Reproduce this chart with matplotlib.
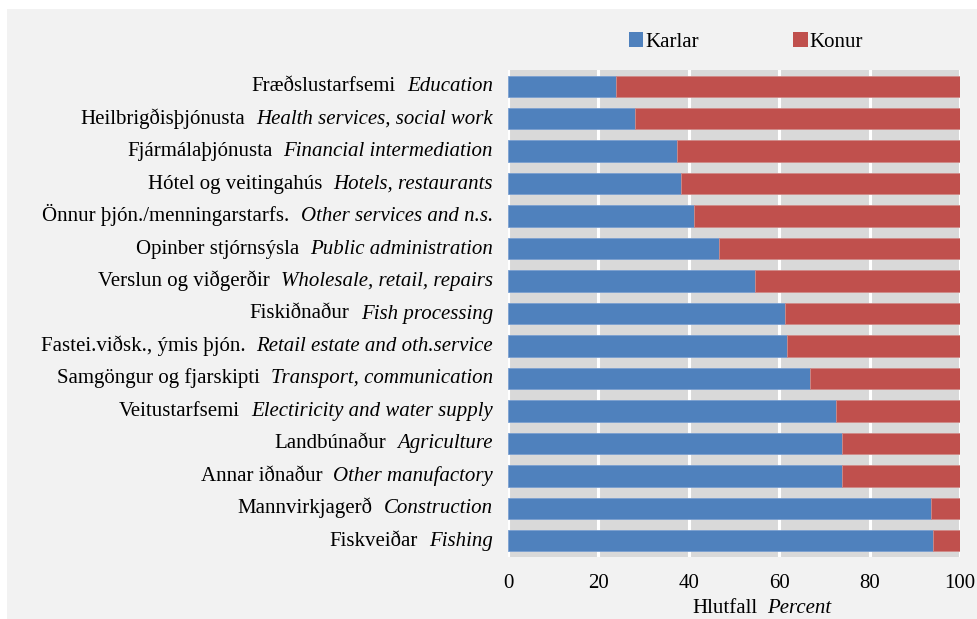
import matplotlib.pyplot as plt
from matplotlib.patches import Rectangle, Patch
from matplotlib.transforms import offset_copy

# Data, top row first
greinar = ["Fræðslustarfsemi", "Heilbrigðisþjónusta", "Fjármálaþjónusta",
           "Hótel og veitingahús", "Önnur þjón./menningarstarfs.",
           "Opinber stjórnsýsla", "Verslun og viðgerðir", "Fiskiðnaður",
           "Fastei.viðsk., ýmis þjón.", "Samgöngur og fjarskipti",
           "Veitustarfsemi", "Landbúnaður", "Annar iðnaður",
           "Mannvirkjagerð", "Fiskveiðar"]
sectors = ["Education", "Health services, social work",
           "Financial intermediation", "Hotels, restaurants",
           "Other services and n.s.", "Public administration",
           "Wholesale, retail, repairs", "Fish processing",
           "Retail estate and oth.service", "Transport, communication",
           "Electiricity and water supply", "Agriculture",
           "Other manufactory", "Construction", "Fishing"]
karlar = [23.8, 28.1, 37.4, 38.2, 41.1, 46.6, 54.6, 61.3, 61.7, 66.8,
          72.6, 73.8, 73.9, 93.6, 94.0]
konur = [76.2, 71.9, 62.6, 61.8, 58.9, 53.4, 45.4, 38.7, 38.3, 33.2,
         27.4, 26.2, 26.1, 6.4, 6.0]
xticks = [0, 20, 40, 60, 80, 100]

plt.rcParams["font.family"] = "Liberation Serif"
FS = 15
BLUE = "#4f81bd"
RED = "#c0504d"

fig = plt.figure(figsize=(9.77, 6.19), dpi=100)
fig.patch.set_facecolor("white")
# light grey chart area with a thin white margin top/left
fig.patches.append(Rectangle((7 / 977, 0), 1, 1 - 9 / 619,
                             transform=fig.transFigure, facecolor="#f2f2f2",
                             edgecolor="none", zorder=-10))

ax = fig.add_axes([508 / 977, 1 - 557 / 619, 452 / 977, 487 / 619])
ax.set_facecolor("#d9d9d9")

y = list(range(len(greinar)))
ax.barh(y, karlar, height=0.66, color=BLUE, edgecolor="#7a9fd0",
        linewidth=0.6, zorder=3)
ax.barh(y, konur, left=karlar, height=0.66, color=RED, edgecolor="#d08a88",
        linewidth=0.6, zorder=3)

ax.set_xlim(0, 100)
ax.set_ylim(len(greinar) - 0.5, -0.5)
ax.set_xticks(xticks)
ax.set_xticklabels([str(v) for v in xticks], fontsize=FS)
ax.tick_params(axis="x", length=0, pad=12)
ax.set_yticks([])
ax.grid(axis="x", color="white", linewidth=2.2, zorder=0)
ax.set_axisbelow(True)
for s in ax.spines.values():
    s.set_visible(False)

# two-part labels: roman Icelandic + italic English, shared baseline
renderer = fig.canvas.get_renderer()
trans = ax.get_yaxis_transform()
for i, (isl, eng) in enumerate(zip(greinar, sectors)):
    t_it = ax.text(0, i, eng, fontsize=FS, style="italic", ha="right",
                   va="baseline",
                   transform=offset_copy(trans, fig=fig, x=-15, y=-5,
                                         units="dots"))
    w = t_it.get_window_extent(renderer).width
    ax.text(0, i, isl, fontsize=FS, ha="right", va="baseline",
            transform=offset_copy(trans, fig=fig, x=-15 - w - 11, y=-5,
                                  units="dots"))

t1 = fig.text(692 / 977, 1 - 613 / 619, "Hlutfall", fontsize=FS,
              ha="left", va="baseline")
w1 = t1.get_window_extent(renderer).width
fig.text(692 / 977, 1 - 613 / 619, "Percent", fontsize=FS, style="italic",
         ha="left", va="baseline",
         transform=offset_copy(fig.transFigure, fig=fig, x=w1 + 10,
                               units="dots"))

handles = [Patch(facecolor=BLUE, label="Karlar"),
           Patch(facecolor=RED, label="Konur")]
fig.legend(handles=handles, loc="center", bbox_to_anchor=(746 / 977, 1 - 42 / 619),
           ncol=2, frameon=False, fontsize=FS, handlelength=0.7,
           handleheight=0.7, handletextpad=0.1, columnspacing=4.5)

fig.savefig("out.png", dpi=100, facecolor=fig.get_facecolor())
